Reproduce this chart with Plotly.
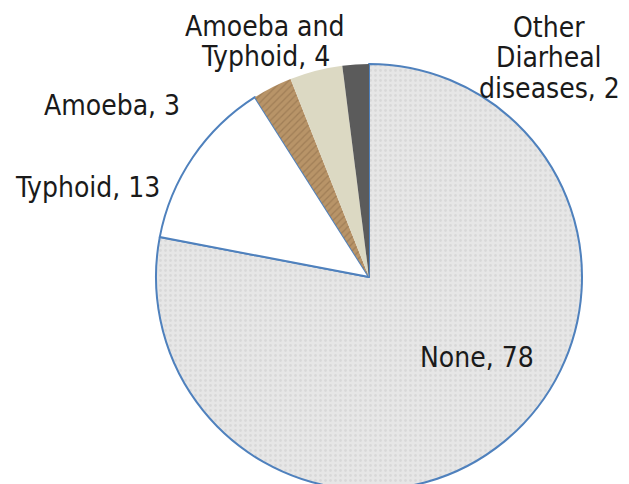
import plotly.graph_objects as go

# ---- data ----
labels = ["None", "Typhoid", "Amoeba", "Amoeba and Typhoid", "Other Diarheal diseases"]
values = [78, 13, 3, 4, 2]

# ---- style ----
OFF = 8                 # page body margin offset of the rendered figure
W, H = 621, 500
fills = ["#e6e6e6", "#ffffff", "#b89468", "#dcd9c3", "#5b5b5b"]
pat_shapes = [".", "", "/", "", ""]
pat_fg = ["#c9c9c9", "#ffffff", "#876845", "#dcd9c3", "#5b5b5b"]
line_cols = ["#4f81bd", "#4f81bd", "#b89468", "#dcd9c3", "#5b5b5b"]
line_w = [2, 2, 0, 0, 0]

cx, cy, r = 369 - OFF, 277 - OFF, 213  # pixel geometry of the pie

# label line breaks (word index splits) and line-center pixel positions
label_lines = {0: [None], 1: [None], 2: [None], 3: [2], 4: [1, 2]}
label_pos = {0: (477, 357), 1: (87, 187), 2: (112, 106), 3: (265, 26), 4: (549, 27)}
line_gap = 30.5
font_family = "DejaVu Sans Condensed, Liberation Sans Narrow, DejaVu Sans, sans-serif"
font_size = 28

fig = go.Figure(go.Pie(
    labels=labels,
    values=values,
    sort=False,
    direction="clockwise",
    rotation=0,
    textinfo="none",
    hoverinfo="label+value",
    marker=dict(
        colors=fills,
        line=dict(color=line_cols, width=line_w),
        pattern=dict(shape=pat_shapes, fgcolor=pat_fg, bgcolor=fills,
                     size=5, solidity=0.25, fillmode="overlay"),
    ),
    domain=dict(x=[(cx - r) / W, (cx + r) / W], y=[(H - cy - r) / H, (H - cy + r) / H]),
    showlegend=False,
))

annotations = []
for i, (lab, val) in enumerate(zip(labels, values)):
    text = f"{lab}, {val}"
    words = text.split(" ")
    splits = label_lines[i]
    if splits == [None]:
        lines = [text]
    else:
        idx = [0] + splits + [len(words)]
        lines = [" ".join(words[idx[k]:idx[k + 1]]) for k in range(len(idx) - 1)]
    x0, y0 = label_pos[i]
    for k, ln in enumerate(lines):
        annotations.append(dict(
            text=ln, x=(x0 - OFF) / W, y=1 - (y0 - OFF + k * line_gap) / H,
            xref="paper", yref="paper", xanchor="center", yanchor="middle",
            showarrow=False, font=dict(family=font_family, size=font_size, color="#1a1a1a"),
        ))

fig.update_layout(
    width=W, height=H,
    margin=dict(l=0, r=0, t=0, b=0),
    paper_bgcolor="white", plot_bgcolor="white",
    annotations=annotations,
)

fig.write_html("out.html")
